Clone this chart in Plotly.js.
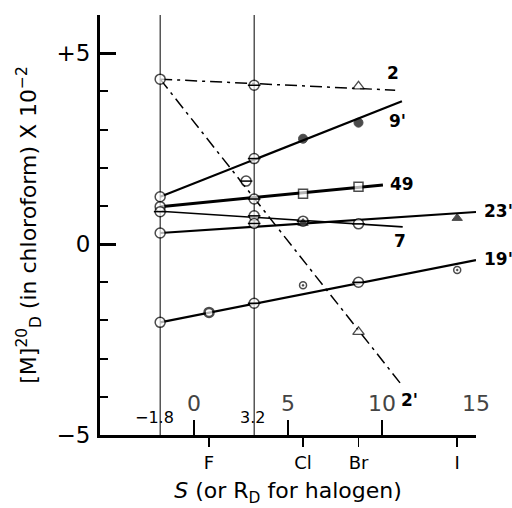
<!DOCTYPE html>
<html>
<head>
<meta charset="utf-8">
<script src="https://cdn.plot.ly/plotly-3.0.1.min.js"></script>
<style>html,body{margin:0;padding:0;background:#fff;}#chart{width:512px;height:508px;}</style>
</head>
<body>
<div id="chart"></div>
<script>
// ---- reference positions on the S axis ----
const refLineS = [-1.8, 3.2];
const refLineLabels = ['\u22121.8', '3.2'];
const mainTickS = [0, 5, 10, 15];
const mainTickText = ['0', '5', '10', '15'];
const halogenS = [0.8, 5.8, 8.75, 14.0];
const halogenNames = ['F', 'Cl', 'Br', 'I'];
const yTickVals = [-5, 0, 5];
const yTickText = ['\u22125', '0', '+5'];

// ---- series (fit line end points + measured points) ----
const s2_fitS = [-1.8, 10.7];   const s2_fitY = [4.32, 4.03];
const s2_S = [-1.8, 3.2, 8.75]; const s2_Y = [4.32, 4.16, 4.13];
const s2_kind = ['open', 'theta', 'triOpen'];

const s2p_fitS = [-1.8, 11.0];  const s2p_fitY = [4.32, -3.66];
const s2p_S = [2.77, 8.75];     const s2p_Y = [1.65, -2.3];
const s2p_kind = ['theta', 'triOpen'];

const s9p_fitS = [-1.8, 11.06]; const s9p_fitY = [1.24, 3.74];
const s9p_S = [-1.8, 3.2, 5.8, 8.75]; const s9p_Y = [1.24, 2.24, 2.76, 3.18];
const s9p_kind = ['open', 'theta', 'filled', 'filled'];

const s49_fitS = [-1.8, 10.05]; const s49_fitY = [0.98, 1.55];
const s49_S = [-1.8, 3.2, 5.8, 8.75]; const s49_Y = [0.98, 1.18, 1.32, 1.5];
const s49_kind = ['open', 'theta', 'sqOpen', 'sqOpen'];

const s7_fitS = [-1.8, 11.1];   const s7_fitY = [0.86, 0.45];
const s7_S = [-1.8, 3.2, 5.8, 8.75]; const s7_Y = [0.85, 0.74, 0.6, 0.53];
const s7_kind = ['theta', 'theta', 'theta', 'theta'];

const s23p_fitS = [-1.8, 15.0]; const s23p_fitY = [0.29, 0.84];
const s23p_S = [-1.8, 3.2, 5.8, 14.0]; const s23p_Y = [0.29, 0.54, 0.55, 0.68];
const s23p_kind = ['open', 'theta', 'triFilled', 'triFilled'];

const s19p_fitS = [-1.8, 15.0]; const s19p_fitY = [-2.05, -0.42];
const s19p_S = [-1.8, 0.8, 3.2, 5.8, 8.75, 14.0]; const s19p_Y = [-2.05, -1.79, -1.55, -1.08, -1.0, -0.68];
const s19p_kind = ['open', 'thick', 'theta', 'dot', 'theta', 'dot'];

const seriesNames = ['2', "2'", "9'", '49', '7', "23'", "19'"];
const labelS = [10.6, 11.45, 10.85, 11.05, 10.95, 15, 15];
const labelY = [4.48, -4.08, 3.22, 1.57, 0.08, 0.86, -0.39];

const FONT = 'DejaVu Sans, Verdana, sans-serif';

const series = [
  {fx: s2_fitS, fy: s2_fitY, x: s2_S, y: s2_Y, k: s2_kind, dash: true, w: 1.5},
  {fx: s2p_fitS, fy: s2p_fitY, x: s2p_S, y: s2p_Y, k: s2p_kind, dash: true, w: 1.5},
  {fx: s9p_fitS, fy: s9p_fitY, x: s9p_S, y: s9p_Y, k: s9p_kind, dash: false, w: 2.2},
  {fx: s49_fitS, fy: s49_fitY, x: s49_S, y: s49_Y, k: s49_kind, dash: false, w: 3},
  {fx: s7_fitS, fy: s7_fitY, x: s7_S, y: s7_Y, k: s7_kind, dash: false, w: 1.6},
  {fx: s23p_fitS, fy: s23p_fitY, x: s23p_S, y: s23p_Y, k: s23p_kind, dash: false, w: 2.2},
  {fx: s19p_fitS, fy: s19p_fitY, x: s19p_S, y: s19p_Y, k: s19p_kind, dash: false, w: 2.2}
];

const kindStyle = {
  open:      {sym: 'circle', size: 10, fill: 'white', lw: 1.5},
  theta:     {sym: 'circle', size: 10, fill: 'white', lw: 1.5},
  thick:     {sym: 'circle', size: 9, fill: 'white', lw: 2.5},
  filled:    {sym: 'circle', size: 9, fill: 'black', lw: 1},
  sqOpen:    {sym: 'square', size: 9, fill: 'white', lw: 1.5},
  triOpen:   {sym: 'triangle-up', size: 10, fill: 'white', lw: 1.3},
  triFilled: {sym: 'triangle-up', size: 9, fill: 'black', lw: 1},
  dot:       {sym: 'circle-dot', size: 7, fill: 'white', lw: 1.5}
};

const traces = [];
refLineS.forEach(s => traces.push({
  x: [s, s], y: [-5, 6], mode: 'lines', line: {color: 'black', width: 1},
  hoverinfo: 'skip', cliponaxis: false
}));
series.forEach(sr => traces.push({
  x: sr.fx, y: sr.fy, mode: 'lines',
  line: {color: 'black', width: sr.w, dash: sr.dash ? '12px,5px,3px,5px' : 'solid'},
  hoverinfo: 'skip', cliponaxis: false
}));
series.forEach(sr => {
  traces.push({
    x: sr.x, y: sr.y, mode: 'markers', cliponaxis: false,
    marker: {
      symbol: sr.k.map(k => kindStyle[k].sym),
      size: sr.k.map(k => kindStyle[k].size),
      color: sr.k.map(k => kindStyle[k].fill),
      line: {color: 'black', width: sr.k.map(k => kindStyle[k].lw)}
    }
  });
  const tx = [], ty = [];
  sr.k.forEach((k, i) => { if (k === 'theta') { tx.push(sr.x[i]); ty.push(sr.y[i]); } });
  if (tx.length) traces.push({
    x: tx, y: ty, mode: 'markers', cliponaxis: false,
    marker: {symbol: 'line-ew', size: 9, line: {color: 'black', width: 1.5}}
  });
});
traces.push({x: [halogenS[0]], y: [-5], xaxis: 'x2', yaxis: 'y', mode: 'markers',
  marker: {opacity: 0}, hoverinfo: 'skip'});

const annotations = [];
seriesNames.forEach((n, i) => {
  const outside = labelS[i] >= 15;
  annotations.push({
    x: labelS[i], y: labelY[i], xref: 'x', yref: 'y', text: '<b>' + n + '</b>',
    xanchor: outside ? 'left' : 'center', xshift: outside ? 6 : 0,
    showarrow: false, font: {family: FONT, size: 17, color: 'black'}
  });
});
refLineS.forEach((s, i) => annotations.push({
  x: s, y: -4.53, xref: 'x', yref: 'y', text: refLineLabels[i], xshift: i === 0 ? -6 : -2,
  showarrow: false, font: {family: FONT, size: 16, color: 'black'}
}));

const layout = {
  width: 512, height: 508,
  margin: {l: 100, r: 36, t: 15, b: 73, pad: 0},
  paper_bgcolor: 'white', plot_bgcolor: 'white',
  showlegend: false,
  font: {family: FONT, color: 'black'},
  xaxis: {
    range: [-5, 15], showline: true, linewidth: 3, linecolor: 'black',
    showgrid: false, zeroline: false,
    tickmode: 'array', tickvals: mainTickS, ticktext: mainTickText,
    ticks: 'inside', ticklen: 15, tickwidth: 2.5, tickcolor: 'black',
    ticklabelposition: 'inside', ticklabelstandoff: 6, ticklabeloverflow: 'allow',
    tickfont: {size: 22}
  },
  xaxis2: {
    overlaying: 'x', anchor: 'y', side: 'bottom', range: [-5, 15],
    showline: false, showgrid: false, zeroline: false,
    tickmode: 'array', tickvals: halogenS, ticktext: halogenNames,
    ticks: 'outside', ticklen: 11, tickwidth: 1.5, tickcolor: 'black',
    tickfont: {size: 18},
    title: {text: '<i>S</i> (or R<sub>D</sub> for halogen)', font: {size: 22}, standoff: 11}
  },
  yaxis: {
    range: [-5, 6], showline: true, linewidth: 3, linecolor: 'black',
    showgrid: false, zeroline: false,
    tickmode: 'array', tickvals: yTickVals, ticktext: yTickText,
    ticks: 'inside', ticklen: 16, tickwidth: 3, tickcolor: 'black',
    tickfont: {size: 23}, ticklabeloverflow: 'allow', ticklabelstandoff: 2,
    minor: {dtick: 1, tick0: 0, ticks: 'inside', ticklen: 8, tickwidth: 2, tickcolor: 'black', showgrid: false},
    title: {text: '[M]<sup>20</sup><sub>D</sub> (in chloroform) X 10<sup>\u22122</sup>', font: {size: 22}, standoff: 14}
  },
  annotations: annotations
};

Plotly.newPlot('chart', traces, layout, {staticPlot: true, displayModeBar: false});
</script>
</body>
</html>
